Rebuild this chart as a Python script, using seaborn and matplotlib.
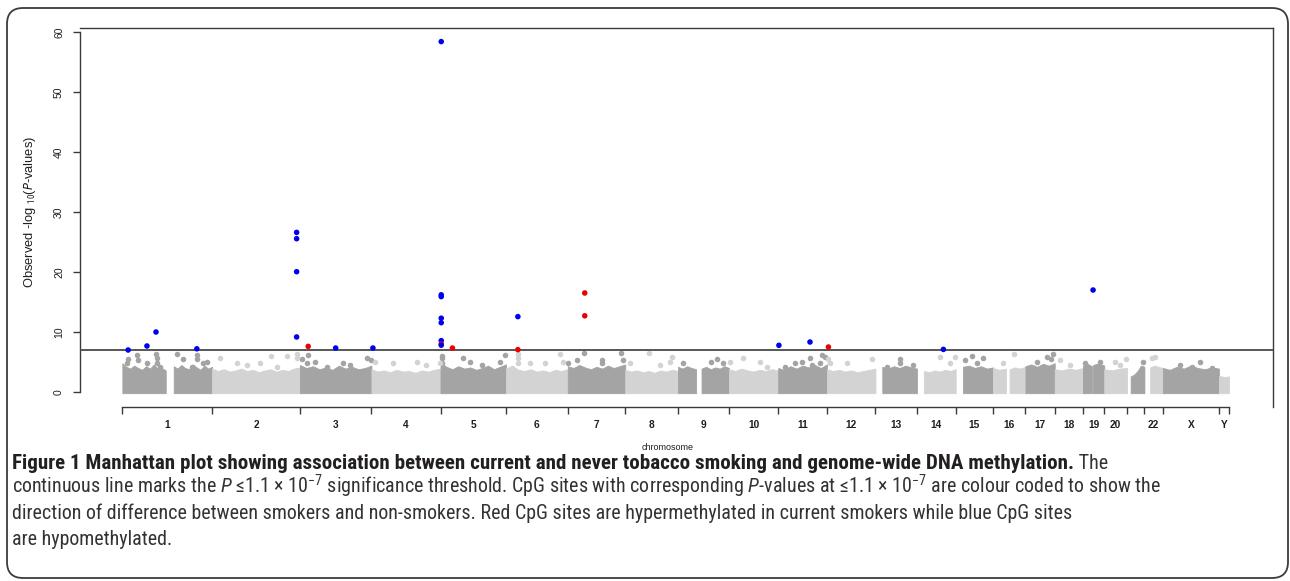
import numpy as np
import pandas as pd
import matplotlib
matplotlib.use("Agg")
import matplotlib.pyplot as plt
import matplotlib.font_manager as fm
import seaborn as sns
from matplotlib.patches import FancyBboxPatch
from matplotlib.transforms import IdentityTransform

# ---------------- data ----------------
CHROMS = [str(i) for i in range(1, 23)] + ["X", "Y"]
CHR_LEN_MB = [249, 243, 198, 191, 181, 171, 159, 146, 141, 136, 135, 134,
              115, 107, 103, 90, 81, 78, 59, 63, 48, 51, 155, 28]
CHR_TICKLABELS = [c if c != "21" else "" for c in CHROMS]
THRESHOLD_P = 1.1e-7
Y_TICKS = [0, 10, 20, 30, 40, 50, 60]

# dense band of non-significant CpGs: (chrom, start Mb, end Mb, upper envelope of -log10 P)
BAND_SEGMENTS = [
    ("1", 1, 121, [4.8, 4.2, 3.9, 4.4, 4.0, 3.7, 4.3, 3.9, 4.6, 3.8, 4.0, 3.6]),
    ("1", 143, 249, [4.3, 3.9, 4.5, 4.0, 3.8, 4.6, 4.1, 3.7, 4.4, 3.9, 4.2]),
    ("2", 0, 243, [3.9, 3.5, 3.8, 3.4, 3.6, 3.9, 3.5, 3.7, 3.3, 3.6, 3.8, 3.4, 3.7, 3.5, 3.9, 4.1]),
    ("3", 0, 198, [4.5, 4.0, 4.3, 3.8, 4.1, 3.7, 4.4, 3.9, 4.2, 3.8, 4.0, 4.4]),
    ("4", 0, 191, [3.8, 3.4, 3.6, 3.3, 3.7, 3.4, 3.5, 3.2, 3.6, 3.4, 3.7, 3.9]),
    ("5", 0, 181, [4.9, 4.2, 3.8, 4.3, 3.9, 4.1, 3.7, 4.0, 4.4, 3.8, 4.2, 4.6]),
    ("6", 0, 171, [3.9, 4.4, 3.7, 3.5, 3.8, 3.4, 3.6, 3.3, 3.7, 3.5, 3.8]),
    ("7", 0, 159, [4.3, 4.0, 4.5, 4.1, 3.8, 4.2, 3.9, 4.4, 4.0, 4.3, 4.6]),
    ("8", 0, 146, [3.7, 3.4, 3.6, 3.3, 3.5, 3.2, 3.6, 3.4, 3.7, 3.5]),
    ("9", 0, 50, [4.2, 3.9, 4.3, 4.0, 3.8]),
    ("9", 65, 141, [3.9, 4.2, 3.8, 4.1, 3.9, 4.3, 4.0]),
    ("10", 0, 136, [3.8, 3.5, 3.9, 3.6, 3.4, 3.7, 3.5, 3.8, 3.6]),
    ("11", 0, 135, [4.0, 3.7, 4.3, 3.9, 4.4, 4.1, 4.5, 4.0, 4.6]),
    ("12", 0, 134, [3.8, 3.5, 3.7, 3.4, 3.6, 3.3, 3.5, 3.7, 3.9]),
    ("13", 19, 115, [4.2, 3.9, 4.3, 4.0, 4.4, 4.1, 3.9]),
    ("14", 19, 107, [3.5, 3.3, 3.6, 3.4, 3.7, 3.5, 3.8]),
    ("15", 20, 103, [4.2, 4.4, 4.0, 4.3, 3.9, 4.1]),
    ("16", 0, 36, [4.0, 3.7, 3.9]),
    ("16", 46, 90, [3.8, 4.1, 3.9, 4.2]),
    ("17", 0, 81, [4.3, 4.6, 4.2, 4.7, 4.4, 4.8]),
    ("18", 0, 78, [3.8, 3.6, 3.9, 3.7, 4.0]),
    ("19", 0, 25, [4.4, 4.7, 4.3]),
    ("19", 28, 59, [4.5, 4.8, 4.4]),
    ("20", 0, 63, [3.8, 3.6, 3.9, 4.0]),
    ("21", 10, 48, [2.6, 2.9, 3.5, 4.4, 4.2]),
    ("22", 16, 51, [4.1, 4.4, 4.2, 4.0]),
    ("X", 0, 155, [4.0, 3.7, 4.2, 3.9, 4.4, 4.0, 3.8, 4.1, 3.9]),
    ("Y", 0, 28, [2.7, 2.5, 2.6]),
]

# scattered non-significant CpGs above the dense band: chrom -> [(Mb, -log10 P)]
GRAY_OUTLIERS = {
    "1": [(17, 5.44), (42, 6.17), (45, 5.33), (13, 4.78), (70, 4.78), (94, 6.33), (96, 5.61),
          (98, 4.78), (105, 4.11), (151, 6.33), (170, 5.44), (207, 6.17), (207, 5.44),
          (235, 5.06), (225, 4.78), (193, 4.22)],
    "2": [(22, 5.6), (68, 4.8), (96, 4.5), (162, 6.0), (207, 6.0), (234, 6.33), (234, 5.6),
          (133, 4.8), (179, 4.2)],
    "3": [(5, 5.44), (23, 6.17), (19, 4.78), (42, 5.06), (74, 4.2), (120, 4.78), (138, 4.5),
          (185, 5.6), (196, 5.3)],
    "4": [(10, 5.06), (60, 4.78), (125, 5.06), (152, 4.5), (189, 4.78)],
    "5": [(3, 6.0), (3, 5.6), (3, 4.8), (63, 5.6), (82, 5.06), (114, 4.5), (164, 5.06), (178, 6.17)],
    "6": [(32, 6.33), (32, 5.6), (32, 4.8), (67, 4.8), (108, 4.8), (150, 6.28), (159, 5.06)],
    "7": [(1, 4.8), (25, 5.3), (46, 6.5), (94, 5.4), (94, 4.8), (148, 6.5), (154, 5.4)],
    "8": [(67, 6.5), (124, 5.06), (128, 5.8), (13, 4.8), (96, 4.5)],
    "9": [(15, 4.8), (90, 5.06), (109, 5.44), (125, 4.8)],
    "10": [(3, 5.06), (39, 5.6), (86, 5.06), (104, 4.2)],
    "11": [(19, 4.2), (46, 4.8), (65, 5.06), (88, 5.6), (93, 4.5), (120, 6.17), (129, 5.9), (115, 4.8)],
    "12": [(4, 5.44), (8, 4.8), (54, 4.8), (124, 5.44)],
    "13": [(68, 5.44), (68, 4.8), (105, 4.5), (31, 4.2)],
    "14": [(64, 5.8), (105, 5.8), (91, 4.8)],
    "15": [(44, 6.0), (75, 5.6), (26, 5.3), (58, 4.8)],
    "16": [(58, 6.28), (28, 4.8)],
    "17": [(31, 5.06), (59, 5.8), (77, 6.28), (72, 5.44)],
    "18": [(14, 5.3), (42, 4.5)],
    "19": [(47, 5.06), (6, 4.8)],
    "20": [(30, 5.07), (60, 5.5), (44, 4.5)],
    "21": [(45, 5.07)],
    "22": [(20, 5.6), (29, 5.8)],
    "X": [(47, 4.5), (80, 4.2), (103, 5.07), (135, 4.0)],
}

# CpGs at P <= 1.1e-7
SIG_CHROM = ["1", "1", "1", "1", "2", "2", "2", "2", "3", "3", "4",
             "5", "5", "5", "5", "5", "5", "5", "5", "5", "6", "6", "7", "7",
             "11", "11", "12", "14", "19"]
SIG_POS = [17, 69, 94, 207, 234, 234, 234, 234, 23, 99, 4,
           2, 2, 2, 2, 2, 2, 2, 2, 33, 33, 33, 47, 47,
           2, 88, 4, 73, 28]
SIG_VAL = [7.0, 7.67, 10.0, 7.2, 26.6, 25.55, 20.05, 9.17, 7.6, 7.33, 7.33,
           58.4, 16.2, 15.9, 12.3, 11.55, 8.56, 8.0, 7.8, 7.33, 12.56, 7.06, 16.5, 12.7,
           7.78, 8.33, 7.5, 7.1, 17.0]
SIG_DIR = ["hypo", "hypo", "hypo", "hypo", "hypo", "hypo", "hypo", "hypo", "hyper", "hypo", "hypo",
           "hypo", "hypo", "hypo", "hypo", "hypo", "hypo", "hyper", "hypo", "hyper", "hypo", "hyper",
           "hyper", "hyper", "hypo", "hypo", "hyper", "hypo", "hypo"]

CAPTION_BOLD = ("Figure 1 Manhattan plot showing association between current and never "
                "tobacco smoking and genome-wide DNA methylation.")
CAPTION_LINES = [
    " The",
    "continuous line marks the $P$ \u22641.1 \u00d7 10$^{-7}$ significance threshold. CpG sites with "
    "corresponding $P$-values at \u22641.1 \u00d7 10$^{-7}$ are colour coded to show the",
    "direction of difference between smokers and non-smokers. Red CpG sites are hypermethylated "
    "in current smokers while blue CpG sites",
    "are hypomethylated.",
]

# ---------------- styling ----------------
W, H = 1290, 581
DARK, LIGHT = "#a4a4a4", "#d3d3d3"
DIR_COLORS = {"hypo": "#0000ee", "hyper": "#ee0000"}

available = {f.name for f in fm.fontManager.ttflist}
cap_main = next((f for f in ["Roboto Condensed", "Liberation Sans Narrow", "Open Sans Condensed",
                             "Liberation Sans"] if f in available), "DejaVu Sans")

sns.set_theme(style="white")
plt.rcParams["font.family"] = ["Liberation Sans", "DejaVu Sans"]
plt.rcParams["mathtext.fontset"] = "custom"
plt.rcParams["mathtext.rm"] = cap_main
plt.rcParams["mathtext.it"] = cap_main + ":italic"
plt.rcParams["mathtext.bf"] = cap_main + ":bold"

chr_start = dict(zip(CHROMS, np.concatenate([[0], np.cumsum(CHR_LEN_MB)[:-1]])))
chr_color = {c: (DARK if i % 2 == 0 else LIGHT) for i, c in enumerate(CHROMS)}
genome_end = float(np.sum(CHR_LEN_MB))

fig = plt.figure(figsize=(W / 100, H / 100), dpi=100)
fig.patch.set_facecolor("white")
ax = fig.add_axes([80 / W, 1 - 407 / H, (1273 - 80) / W, (407 - 28) / H])

# dense band
for chrom, s, e, tops in BAND_SEGMENTS:
    xs = chr_start[chrom] + np.linspace(s, e, len(tops))
    ax.fill_between(xs, -0.2, tops, color=chr_color[chrom], linewidth=0.6,
                    edgecolor=chr_color[chrom], zorder=1)

# scattered gray points
g_rows = []
for chrom, pts in GRAY_OUTLIERS.items():
    for pos, val in pts:
        g_rows.append({"x": chr_start[chrom] + pos, "y": val, "col": chr_color[chrom]})
gdf = pd.DataFrame(g_rows)
for col, sub in gdf.groupby("col"):
    sns.scatterplot(data=sub, x="x", y="y", color=col, s=16, linewidth=0, ax=ax, zorder=2, legend=False)

# threshold
ax.axhline(-np.log10(THRESHOLD_P), color="#4a4a4a", lw=1.3, zorder=3)

# significant points
sdf = pd.DataFrame({"x": [chr_start[c] + p for c, p in zip(SIG_CHROM, SIG_POS)],
                    "y": SIG_VAL, "dir": SIG_DIR})
sns.scatterplot(data=sdf, x="x", y="y", hue="dir", palette=DIR_COLORS, s=16, linewidth=0,
                ax=ax, zorder=4, legend=False)

# axes frame, R style
px_per_mb = (1229 - 122) / genome_end
ax.set_xlim((80 - 122) / px_per_mb, (1273 - 122) / px_per_mb)
ax.set_ylim((392 - 407) / 6.0, (392 - 28) / 6.0)
ax.set_xlabel("")
ax.set_ylabel("")
for side in ["left", "bottom", "top", "right"]:
    ax.spines[side].set_visible(True)
    ax.spines[side].set_color("#3a3a3a")
    ax.spines[side].set_linewidth(1.0)
ax.spines["left"].set_bounds(0, 60)
ax.spines["bottom"].set_bounds(0, genome_end)

bounds = np.concatenate([[0], np.cumsum(CHR_LEN_MB)])
mids = (bounds[:-1] + bounds[1:]) / 2
ax.set_xticks(bounds)
ax.set_xticklabels([""] * len(bounds))
ax.set_xticks(mids, minor=True)
ax.set_xticklabels(CHR_TICKLABELS, minor=True, fontsize=7.3, fontweight="bold", color="#1e1e1e")
ax.tick_params(axis="x", which="major", direction="out", length=5, width=1.0, color="#3a3a3a", bottom=True)
ax.tick_params(axis="x", which="minor", length=0, pad=9.5)
ax.set_yticks(Y_TICKS)
ax.set_yticklabels([str(v) for v in Y_TICKS], rotation=90, va="center", fontsize=7.5, color="#1e1e1e")
ax.tick_params(axis="y", direction="out", length=5, width=1.0, color="#3a3a3a", left=True, pad=6.5)
ax.grid(False)

ax.set_ylabel("Observed -log $_{10}$($P$-values)", fontsize=9.3, color="#1e1e1e")
ax.yaxis.set_label_coords((38 - 80) / (1273 - 80), 0.515)
fig.text(668 / W, 1 - 447 / H, "chromosome", ha="center", va="center", fontsize=6.5, color="#1e1e1e")

# caption
cap_font = [cap_main, "Liberation Sans", "DejaVu Sans"]
base = 14.0
t1 = fig.text(12 / W, 1 - 469 / H, CAPTION_BOLD, fontsize=base, fontweight="bold",
              family=cap_font, color="#231f20", va="baseline", ha="left")
t1b = ax.annotate(CAPTION_LINES[0], xy=(1, 0), xycoords=t1, va="bottom", ha="left",
                  fontsize=base, family=cap_font, color="#333333", annotation_clip=False)
others = []
for txt, yb in zip(CAPTION_LINES[1:], [494, 519, 545]):
    others.append(fig.text(12 / W, 1 - yb / H, txt, fontsize=base, family=cap_font,
                           color="#333333", va="baseline", ha="left"))
fig.canvas.draw()
r = fig.canvas.get_renderer()
reg_scale = (1077 - 12) / others[1].get_window_extent(r).width
bold_scale = (1103 - 12) / t1.get_window_extent(r).width
t1.set_fontsize(base * min(bold_scale, reg_scale * 1.05))
for t in [t1b] + others:
    t.set_fontsize(base * reg_scale)

# rounded frame around figure
frame = FancyBboxPatch((7, 3), 1281, 570, boxstyle="round,pad=0,rounding_size=16",
                       transform=IdentityTransform(), fill=False, edgecolor="#3c3c3c",
                       linewidth=1.3, figure=fig)
fig.patches.append(frame)

fig.savefig("out.png", dpi=100)
